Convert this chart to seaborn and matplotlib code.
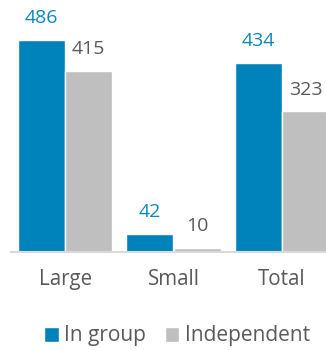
import matplotlib
matplotlib.use("Agg")
import matplotlib.pyplot as plt
import seaborn as sns
import pandas as pd

categories = ["Large", "Small", "Total"]
in_group = [486, 42, 434]
independent = [415, 10, 323]
series_names = ["In group", "Independent"]

blue = "#0083BA"
grey = "#BFBFBF"
text_grey = "#595959"
label_blue = "#0A86C0"

df = pd.DataFrame({
    "category": categories * 2,
    "group": [series_names[0]] * len(categories) + [series_names[1]] * len(categories),
    "value": in_group + independent,
})

sns.set_theme(style="white")
plt.rcParams["font.family"] = ["Open Sans", "DejaVu Sans"]

fig = plt.figure(figsize=(3.26, 3.5), dpi=100)
ax = fig.add_axes([11 / 326, 98 / 350, 325 / 326, 240 / 350])

sns.barplot(data=df, x="category", y="value", hue="group", order=categories,
            hue_order=series_names, palette=[blue, grey], saturation=1,
            width=0.87, gap=0, ax=ax, errorbar=None)

ax.set_xlim(-0.5, 2.5)
ax.set_ylim(0, 550)
ax.set_xlabel("")
ax.set_ylabel("")
ax.set_yticks([])
for s in ["top", "left", "right"]:
    ax.spines[s].set_visible(False)
ax.spines["bottom"].set_color("#D9D9D9")
ax.spines["bottom"].set_linewidth(1.5)
ax.tick_params(axis="x", length=0, pad=12, labelsize=14.8, labelcolor=text_grey)

for container, color in zip(ax.containers, [label_blue, text_grey]):
    ax.bar_label(container, fmt="%d", padding=9, fontsize=14, color=color)

handles, labels = ax.get_legend_handles_labels()
ax.legend_.remove()
fig.legend(handles, labels, loc="center", bbox_to_anchor=(177 / 326, 1 - 336 / 350),
           ncol=2, frameon=False, fontsize=15, labelcolor=text_grey,
           handlelength=0.7, handleheight=0.7, handletextpad=0.25,
           columnspacing=0.9, borderaxespad=0)

fig.savefig("out.png", dpi=100)
